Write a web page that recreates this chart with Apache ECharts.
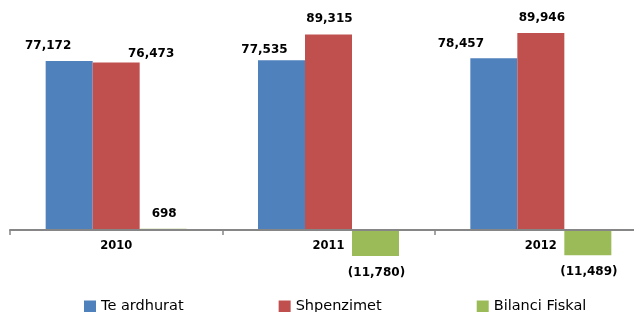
<!DOCTYPE html>
<html>
<head>
<meta charset="utf-8">
<script src="https://cdn.jsdelivr.net/npm/echarts@6/dist/echarts.min.js"></script>
<style>
  html, body { margin: 0; padding: 0; background: #fff; }
  #container { width: 634px; height: 312px; }
</style>
</head>
<body>
<div id="container"></div>
<script>
var vitet = ['2010', '2011', '2012'];
var teArdhurat = [77172, 77535, 78457];
var shpenzimet = [76473, 89315, 89946];
var bilanciFiskal = [698, -11780, -11489];

// label nudges, Excel labels were dragged by hand
var offArdhurat = [[-21, -8], [-17, -3], [-33, -7]];
var offShpenzimet = [[35, -2], [1, -9], [1, -8]];
var offBilanci = [[1, -8], [1, 10], [1, 10]];

function fmt(v) {
    var s = Math.abs(v).toString().replace(/\B(?=(\d{3})+(?!\d))/g, ',');
    return v < 0 ? '(' + s + ')' : s;
}

function items(values, offsets) {
    return values.map(function (v, i) {
        return {
            value: v,
            label: { position: v < 0 ? 'bottom' : 'top', offset: offsets[i] }
        };
    });
}

var dom = document.getElementById('container');
var myChart = echarts.init(dom);

var labelStyle = {
    show: true,
    distance: 0,
    fontFamily: 'DejaVu Sans',
    fontWeight: 'bold',
    fontSize: 12,
    lineHeight: 14,
    color: '#000',
    formatter: function (p) { return fmt(p.value); }
};

var option = {
    animation: false,
    grid: { left: 10, right: -13, top: 11, bottom: 38, outerBoundsMode: 'none', containLabel: false },
    legend: {
        left: 79,
        top: 294,
        itemWidth: 12,
        itemHeight: 12,
        itemGap: 95,
        icon: 'rect',
        textStyle: { fontFamily: 'DejaVu Sans', fontSize: 14.5, color: '#000' },
        data: ['Te ardhurat', 'Shpenzimet', 'Bilanci Fiskal']
    },
    xAxis: {
        type: 'category',
        data: vitet,
        position: 'bottom',
        offset: -44,
        z: 5,
        axisLine: { onZero: false, lineStyle: { color: '#868686', width: 2 } },
        axisTick: { show: true, length: 5, lineStyle: { color: '#868686', width: 1.5 } },
        axisLabel: {
            margin: 10,
            fontFamily: 'DejaVu Sans',
            fontWeight: 'bold',
            fontSize: 11.5,
            color: '#000'
        }
    },
    yAxis: {
        type: 'value',
        min: -20000,
        max: 100000,
        show: false,
        splitLine: { show: false }
    },
    series: [
        {
            name: 'Te ardhurat', type: 'bar', barWidth: 47, barGap: '0%',
            itemStyle: { color: '#4F81BD' },
            label: labelStyle,
            data: items(teArdhurat, offArdhurat)
        },
        {
            name: 'Shpenzimet', type: 'bar', barWidth: 47, barGap: '0%',
            itemStyle: { color: '#C0504D' },
            label: labelStyle,
            data: items(shpenzimet, offShpenzimet)
        },
        {
            name: 'Bilanci Fiskal', type: 'bar', barWidth: 47, barGap: '0%',
            itemStyle: { color: '#9BBB59' },
            label: labelStyle,
            data: items(bilanciFiskal, offBilanci)
        }
    ]
};
myChart.setOption(option);
</script>
</body>
</html>
